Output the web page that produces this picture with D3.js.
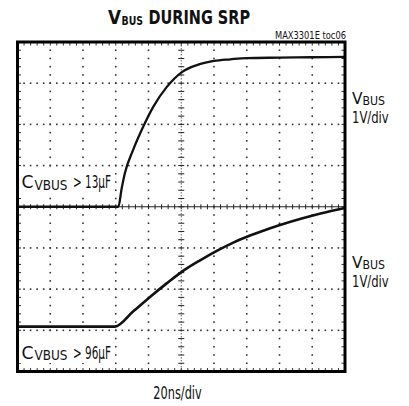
<!DOCTYPE html>
<html>
<head>
<meta charset="utf-8">
<script src="https://cdn.jsdelivr.net/npm/d3@7"></script>
<style>
    body { margin: 0; background: #fff; }
    svg { display: block; }
    text { font-family: "Liberation Sans Narrow", "Arial Narrow", "DejaVu Sans Condensed", sans-serif; fill: #111; }
</style>
</head>
<body>
<div id="chart"></div>
<script>
(function() {
    'use strict';

    // time axis in ns (20ns/div, 10 div), voltage in V (1V/div, 8 div)
    var topTime  = [0, 61.6, 63.5, 65.6, 70.6, 76.6, 82.8, 91.2, 100.4, 109.6, 120, 130, 140, 160, 180, 200];
    var topVolts = [0, 0, 0.42, 0.82, 1.38, 1.93, 2.42, 2.91, 3.27, 3.44, 3.54, 3.58, 3.61, 3.62, 3.63, 3.64];

    var botTime  = [0, 59.5, 70.7, 80.9, 91.1, 100.3, 111.5, 121.7, 131.8, 142, 152.2, 162.3, 172.5, 182.7, 192.9, 200];
    var botVolts = [-2.91, -2.91, -2.54, -2.19, -1.86, -1.58, -1.30, -1.07, -0.87, -0.70, -0.55, -0.42, -0.30, -0.19, -0.09, -0.03];

    var capLabels = ["> 13\u00b5F", "> 96\u00b5F"];

    var xDivs = d3.range(0, 201, 20);
    var yDivs = d3.range(-4, 5, 1);

    var width = 409, height = 406;
    var left = 17.5, right = 345, top = 42, bottom = 371.5;

    var x = d3.scaleLinear().domain([0, 200]).range([left, right]);
    var y = d3.scaleLinear().domain([-4, 4]).range([bottom, top]);

    var svg = d3.select("#chart").append("svg")
        .attr("width", width)
        .attr("height", height);

    var minorX = d3.range(4, 200, 4);
    var minorY = d3.range(-3.8, 4, 0.2).map(function(v) { return Math.round(v * 10) / 10; });

    // dotted graticule
    var grid = svg.append("g").attr("fill", "#333");
    yDivs.slice(1, -1).filter(function(v) { return v !== 0; }).forEach(function(v) {
        grid.selectAll(null)
            .data(minorX)
            .enter().append("rect")
            .attr("x", function(d) { return x(d) - 0.8; })
            .attr("y", y(v) - 0.8)
            .attr("width", 1.6)
            .attr("height", 1.6);
    });
    xDivs.slice(1, -1).filter(function(t) { return t !== 100; }).forEach(function(t) {
        grid.selectAll(null)
            .data(minorY)
            .enter().append("rect")
            .attr("x", x(t) - 0.8)
            .attr("y", function(d) { return y(d) - 0.8; })
            .attr("width", 1.6)
            .attr("height", 1.6);
    });

    // centre axes with minor ticks
    var axes = svg.append("g").attr("stroke", "#222").attr("stroke-width", 1);
    axes.append("line")
        .attr("x1", left).attr("x2", right)
        .attr("y1", y(0)).attr("y2", y(0));
    axes.selectAll(".hx")
        .data(minorX)
        .enter().append("line")
        .attr("x1", function(d) { return x(d); })
        .attr("x2", function(d) { return x(d); })
        .attr("y1", y(0) - 2.5)
        .attr("y2", y(0) + 2.5);

    axes.append("line")
        .attr("x1", x(100)).attr("x2", x(100))
        .attr("y1", top).attr("y2", bottom)
        .attr("stroke", "#666")
        .attr("stroke-dasharray", "1.5,1.5");
    axes.selectAll(".vy")
        .data(minorY)
        .enter().append("line")
        .attr("x1", x(100) - 3)
        .attr("x2", x(100) + 3)
        .attr("y1", function(d) { return y(d); })
        .attr("y2", function(d) { return y(d); });

    // ticks on the frame edges
    var edge = svg.append("g").attr("stroke", "#333").attr("stroke-width", 1);
    minorX.forEach(function(t) {
        edge.append("line").attr("x1", x(t)).attr("x2", x(t)).attr("y1", top).attr("y2", top + 3.5);
        edge.append("line").attr("x1", x(t)).attr("x2", x(t)).attr("y1", bottom).attr("y2", bottom - 3.5);
    });
    minorY.forEach(function(v) {
        edge.append("line").attr("x1", left).attr("x2", left + 3.5).attr("y1", y(v)).attr("y2", y(v));
        edge.append("line").attr("x1", right).attr("x2", right - 3.5).attr("y1", y(v)).attr("y2", y(v));
    });

    // label backgrounds
    svg.append("rect").attr("x", 19).attr("y", 169).attr("width", 96).attr("height", 24).attr("fill", "#fff");
    svg.append("rect").attr("x", 19).attr("y", 335).attr("width", 96).attr("height", 28).attr("fill", "#fff");

    // traces
    var line = d3.line()
        .x(function(d) { return x(d[0]); })
        .y(function(d) { return y(d[1]); })
        .curve(d3.curveMonotoneX);

    svg.append("path")
        .datum(d3.zip(topTime, topVolts))
        .attr("fill", "none")
        .attr("stroke", "#111")
        .attr("stroke-width", 2.3)
        .attr("d", line);

    svg.append("path")
        .datum(d3.zip(botTime, botVolts))
        .attr("fill", "none")
        .attr("stroke", "#111")
        .attr("stroke-width", 2.6)
        .attr("d", line);

    // frame
    svg.append("rect")
        .attr("x", left).attr("y", top)
        .attr("width", right - left).attr("height", bottom - top)
        .attr("fill", "none")
        .attr("stroke", "#000")
        .attr("stroke-width", 3);

    // title, in pieces so the subscript sits right
    function piece(px, py, size, len, str, bold) {
        return svg.append("text")
            .attr("x", px).attr("y", py)
            .attr("font-size", size)
            .attr("font-weight", bold ? "bold" : null)
            .attr("textLength", len)
            .attr("lengthAdjust", "spacingAndGlyphs")
            .text(str);
    }
    piece(108, 23.5, 19, 13, "V", true);
    piece(121.5, 25.3, 12, 21.5, "BUS", true);
    piece(148.5, 23.5, 19, 101.5, "DURING SRP", true);

    piece(275, 38.5, 10, 71, "MAX3301E toc06");

    // channel labels on the right
    [[103.5, 122.5], [268, 287]].forEach(function(b) {
        piece(352, b[0], 16, 10.5, "V");
        piece(362.5, b[0] + 1.2, 12.5, 22.5, "BUS");
        piece(352, b[1], 16, 36.7, "1V/div");
    });

    // capacitance labels
    [188.3, 358.5].forEach(function(base, i) {
        piece(21.5, base, 18, 12, "C");
        piece(34.5, base + 1.2, 14, 33, "VBUS");
        piece(73, base, 17, 38, capLabels[i]);
    });

    piece(153.3, 399.3, 17, 48.4, "20ns/div");
})();
</script>
</body>
</html>
